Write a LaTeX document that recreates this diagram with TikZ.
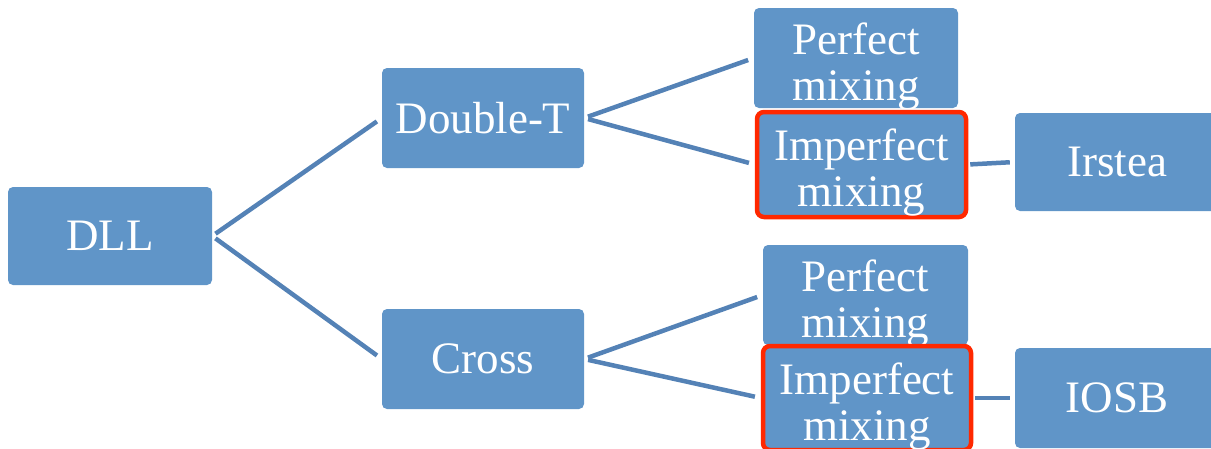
\documentclass[tikz,border=0pt]{standalone}
\usepackage{fontspec}
\setmainfont{Liberation Serif}
\definecolor{boxblue}{RGB}{96,149,200}
\definecolor{lineblue}{RGB}{84,130,182}
\definecolor{hired}{RGB}{255,40,0}
\begin{document}
\begin{tikzpicture}[x=1pt,y=-1pt,
  box/.style={fill=boxblue, rounded corners=5pt, text=white, align=center,
    inner sep=0pt, font=\fontsize{45}{46}\selectfont},
  twoline/.style={text height=92pt, text depth=8pt},
  hibox/.style={box, twoline, draw=hired, line width=4.5pt, rounded corners=7pt},
  conn/.style={draw=lineblue, line width=4.5pt, shorten <=4pt, shorten >=6pt}]
\useasboundingbox (0,0) rectangle (1211,448);
\node[box, minimum width=204pt, minimum height=98pt] (dll) at (110,236) {DLL};
\node[box, minimum width=202pt, minimum height=100pt] (dt) at (483,118) {Double-T};
\node[box, minimum width=202pt, minimum height=100pt] (cr) at (483,359) {Cross};
\node[box, twoline, minimum width=204pt, minimum height=100pt] (p1) at (856,58) {Perfect\\mixing};
\node[hibox, minimum width=209pt, minimum height=105pt] (i1) at (861.5,164.5) {Imperfect\\mixing};
\node[box, minimum width=204pt, minimum height=98pt] (ir) at (1117,162) {Irstea};
\node[box, twoline, minimum width=205pt, minimum height=96pt] (p2) at (865.5,295) {Perfect\\mixing};
\node[hibox, minimum width=208pt, minimum height=104pt] (i2) at (867,398) {Imperfect\\mixing};
\node[box, minimum width=204pt, minimum height=100pt] (io) at (1117,398) {IOSB};
\draw[conn] (dll.east) -- (dt.west);
\draw[conn] (dll.east) -- (cr.west);
\draw[conn] (dt.east) -- (p1.west);
\draw[conn] (dt.east) -- (i1.west);
\draw[conn] (cr.east) -- (p2.west);
\draw[conn] (cr.east) -- (i2.west);
\draw[conn, shorten <=2pt, shorten >=5pt] (i1.east) -- (ir.west);
\draw[conn, shorten <=2pt, shorten >=5pt] (i2.east) -- (io.west);
\end{tikzpicture}
\end{document}
